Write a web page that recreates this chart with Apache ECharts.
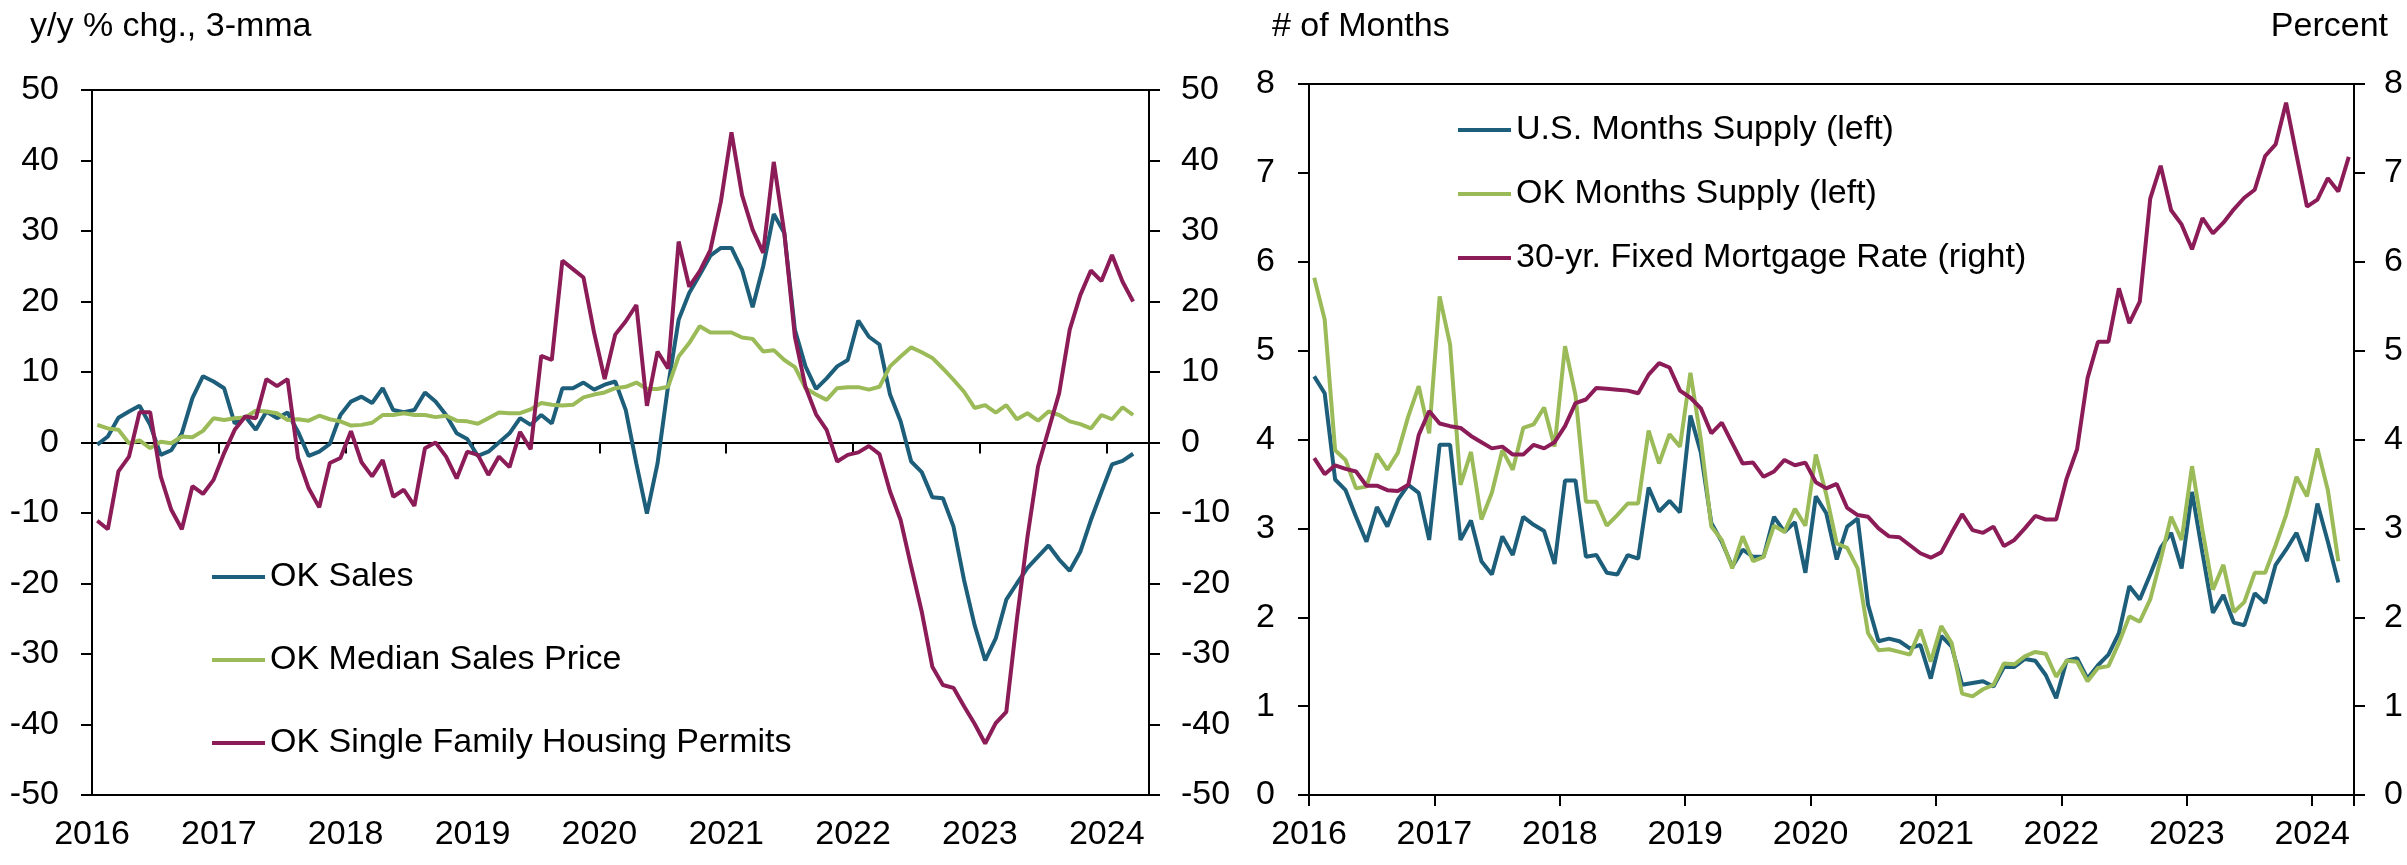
<!DOCTYPE html>
<html>
<head>
<meta charset="utf-8">
<title>OK housing</title>
<script src="https://cdn.jsdelivr.net/npm/echarts@6.0.0/dist/echarts.min.js"></script>
<style>
  html, body { margin: 0; padding: 0; background: #fff; }
  #chart { width: 2407px; height: 865px; }
</style>
</head>
<body>
<div id="chart"></div>
<script>
// monthly data, Jan 2016 onwards
const yearLabels = ['2016', '2017', '2018', '2019', '2020', '2021', '2022', '2023', '2024']
const leftTicks = [-50, -40, -30, -20, -10, 0, 10, 20, 30, 40, 50]
const rightTicks = [0, 1, 2, 3, 4, 5, 6, 7, 8]

// left panel: y/y % chg., 3-mma
const okSales = [
  -0.3, 0.85, 3.5, 4.4, 5.2, 2.5, -1.75, -1.1, 1.3, 6.3,
  9.4, 8.65, 7.7, 2.7, 3.7, 1.8, 4.4, 3.45, 4.25, 1.5,
  -1.9, -1.3, -0.2, 3.9, 5.8, 6.5, 5.6, 7.7, 4.6, 4.3,
  4.6, 7.1, 5.8, 3.9, 1.3, 0.5, -1.9, -1.3, 0, 1.3,
  3.45, 2.5, 3.9, 2.7, 7.7, 7.7, 8.5, 7.5, 8.2, 8.65,
  4.6, -3, -10.1, -3, 8, 17.4, 21.2, 23.8, 26.5, 27.6,
  27.6, 24.5, 19.2, 25, 32.4, 29.7, 16, 10.8, 7.6, 9.1,
  10.8, 11.7, 17.3, 15, 13.9, 6.8, 3.0, -2.7, -4.2, -7.75,
  -7.9, -11.9, -19.5, -25.9, -30.9, -27.8, -22.3, -20, -17.8, -16.2,
  -14.6, -16.6, -18.2, -15.5, -11, -7, -3.1, -2.6, -1.6
]
const okMedianPrice = [
  2.5, 2.0, 1.8, -0.1, 0.3, -0.8, 0.1, -0.1, 0.85, 0.75,
  1.65, 3.45, 3.2, 3.45, 3.55, 4.5, 4.4, 4.15, 3.2, 3.3,
  3.1, 3.8, 3.3, 3.0, 2.4, 2.5, 2.8, 3.9, 3.9, 4.15,
  3.9, 3.9, 3.6, 3.8, 3.1, 3.0, 2.65, 3.45, 4.25, 4.15,
  4.15, 4.7, 5.6, 5.35, 5.25, 5.35, 6.4, 6.8, 7.1, 7.7,
  7.9, 8.5, 7.6, 7.6, 7.9, 12.2, 14.1, 16.5, 15.6, 15.6,
  15.6, 14.9, 14.7, 12.9, 13.1, 11.7, 10.7, 7.7, 6.8, 6.05,
  7.7, 7.85, 7.85, 7.5, 7.9, 10.8, 12.2, 13.5, 12.8, 12.0,
  10.5, 8.9, 7.2, 4.9, 5.3, 4.25, 5.3, 3.3, 4.15, 3.1,
  4.4, 3.9, 3.0, 2.6, 2.0, 3.9, 3.3, 5.0, 3.9
]
const okPermits = [
  -11.1, -12.3, -4.1, -2.0, 4.3, 4.3, -4.8, -9.55, -12.3, -6.2,
  -7.3, -5.3, -1.5, 1.8, 3.7, 3.45, 9.0, 8.0, 9.0, -2.2,
  -6.5, -9.2, -2.9, -2.2, 1.6, -2.8, -4.8, -2.5, -7.7, -6.7,
  -9.0, -0.8, 0, -2.0, -5.1, -1.3, -1.75, -4.6, -2.0, -3.5,
  1.5, -0.95, 12.3, 11.7, 25.8, 24.6, 23.4, 15.6, 9.0, 15.3,
  17.2, 19.5, 5.2, 12.9, 10.5, 28.5, 22.1, 24.3, 27.3, 34.2,
  44.0, 35.1, 30.2, 26.9, 39.8, 29.7, 15.0, 7.9, 4.0, 1.8,
  -2.7, -1.75, -1.4, -0.5, -1.65, -6.95, -11, -17.6, -24, -31.8,
  -34.4, -34.8, -37.4, -39.9, -42.7, -39.8, -38.2, -25.1, -13.4, -3.4,
  1.8, 7.0, 16.0, 20.9, 24.4, 22.9, 26.6, 22.8, 20.0
]

// right panel: months supply (left axis), mortgage rate (right axis)
const usSupply = [
  4.71, 4.52, 3.55, 3.43, 3.13, 2.85, 3.24, 3.02, 3.32, 3.49,
  3.40, 2.87, 3.94, 3.94, 2.87, 3.09, 2.63, 2.48, 2.91, 2.70,
  3.13, 3.04, 2.97, 2.60, 3.54, 3.54, 2.68, 2.70, 2.50, 2.48,
  2.70, 2.66, 3.46, 3.19, 3.31, 3.18, 4.27, 3.85, 3.06, 2.85,
  2.57, 2.76, 2.68, 2.68, 3.13, 2.96, 3.07, 2.50, 3.36, 3.17,
  2.65, 3.02, 3.11, 2.14, 1.73, 1.76, 1.73, 1.65, 1.69, 1.31,
  1.79, 1.67, 1.24, 1.26, 1.28, 1.22, 1.44, 1.44, 1.53, 1.51,
  1.35, 1.09, 1.51, 1.54, 1.31, 1.46, 1.58, 1.82, 2.35, 2.20,
  2.48, 2.78, 2.95, 2.55, 3.41, 2.72, 2.05, 2.25, 1.94, 1.91,
  2.27, 2.16, 2.59, 2.76, 2.95, 2.63, 3.28, 2.85, 2.39
]
const okSupply = [
  5.82, 5.35, 3.88, 3.77, 3.45, 3.47, 3.84, 3.66, 3.85, 4.26,
  4.60, 4.07, 5.61, 5.07, 3.49, 3.86, 3.10, 3.40, 3.88, 3.66,
  4.13, 4.17, 4.36, 3.92, 5.05, 4.50, 3.30, 3.30, 3.03, 3.15,
  3.28, 3.28, 4.10, 3.73, 4.06, 3.92, 4.75, 4.0, 3.02, 2.87,
  2.55, 2.91, 2.63, 2.68, 3.03, 2.96, 3.22, 3.03, 3.83, 3.38,
  2.83, 2.78, 2.55, 1.82, 1.63, 1.64, 1.61, 1.58, 1.86, 1.50,
  1.90, 1.71, 1.14, 1.11, 1.19, 1.24, 1.48, 1.47, 1.56, 1.61,
  1.59, 1.33, 1.51, 1.50, 1.28, 1.43, 1.45, 1.71, 2.01, 1.95,
  2.20, 2.65, 3.13, 2.87, 3.70, 2.98, 2.31, 2.59, 2.06, 2.17,
  2.50, 2.50, 2.81, 3.15, 3.58, 3.36, 3.90, 3.43, 2.63
]
const mortgageRate = [
  3.79, 3.61, 3.71, 3.67, 3.64, 3.48, 3.48, 3.43, 3.42, 3.49,
  4.05, 4.32, 4.18, 4.15, 4.13, 4.04, 3.97, 3.90, 3.92, 3.83,
  3.83, 3.94, 3.90, 3.97, 4.15, 4.41, 4.45, 4.58, 4.57, 4.56,
  4.55, 4.52, 4.73, 4.86, 4.81, 4.55, 4.47, 4.35, 4.07, 4.19,
  3.96, 3.73, 3.74, 3.58, 3.64, 3.77, 3.71, 3.74, 3.52, 3.45,
  3.50, 3.23, 3.15, 3.13, 3.00, 2.91, 2.90, 2.81, 2.72, 2.67,
  2.73, 2.95, 3.16, 2.98, 2.95, 3.02, 2.80, 2.87, 3.00, 3.14,
  3.10, 3.10, 3.56, 3.89, 4.69, 5.10, 5.10, 5.70, 5.31, 5.55,
  6.71, 7.08, 6.58, 6.42, 6.14, 6.49, 6.32, 6.44, 6.59, 6.72,
  6.81, 7.19, 7.32, 7.79, 7.20, 6.62, 6.70, 6.94, 6.79, 7.18
]

const blue = '#1d5e7a'
const green = '#9bbb59'
const purple = '#8c1c57'
const font = "'Liberation Sans Narrow', 'Arial Narrow', 'Liberation Sans', sans-serif"
const fontSize = 34

// points sit mid-month on a month-index axis
const toPoints = (arr) => arr.map((v, i) => [i + 0.5, v])
const yearFormatter = (v) => (v % 12 === 0 ? yearLabels[v / 12] : '')

const axisLine = { show: true, onZero: false, lineStyle: { color: '#000', width: 2 } }
const axisTick = { show: true, length: 11, lineStyle: { color: '#000', width: 2 } }
const labelStyle = { color: '#000', fontFamily: font, fontSize: fontSize }

function yAxis(gridIndex, position, ticks, margin) {
  return {
    type: 'value', gridIndex, position,
    min: ticks[0], max: ticks[ticks.length - 1], interval: ticks[1] - ticks[0],
    axisLine, axisTick,
    axisLabel: { ...labelStyle, margin },
    splitLine: { show: false },
  }
}

function lineSeries(name, data, color, xAxisIndex, yAxisIndex) {
  return {
    name, type: 'line', xAxisIndex, yAxisIndex,
    data: toPoints(data),
    showSymbol: false, symbol: 'none',
    lineStyle: { width: 4, color },
    itemStyle: { color },
    emphasis: { disabled: true },
  }
}

const chart = echarts.init(document.getElementById('chart'), null, { renderer: 'canvas' })

const option = {
  animation: false,
  backgroundColor: '#fff',
  textStyle: { fontFamily: font },
  title: [
    { text: 'y/y % chg., 3-mma', left: 30, top: 10, padding: 0,
      textStyle: { ...labelStyle, fontWeight: 'normal' } },
    { text: '# of Months', left: 1272, top: 10, padding: 0,
      textStyle: { ...labelStyle, fontWeight: 'normal' } },
    { text: 'Percent', right: 19, top: 10, padding: 0,
      textStyle: { ...labelStyle, fontWeight: 'normal' } },
  ],
  legend: [
    {
      data: ['OK Sales', 'OK Median Sales Price', 'OK Single Family Housing Permits'],
      orient: 'vertical', left: 212, top: 557, padding: 0,
      icon: 'rect', itemWidth: 53, itemHeight: 4, itemGap: 43,
      textStyle: { ...labelStyle, lineHeight: 40 },
    },
    {
      data: ['U.S. Months Supply (left)', 'OK Months Supply (left)', '30-yr. Fixed Mortgage Rate (right)'],
      orient: 'vertical', left: 1458, top: 110, padding: 0,
      icon: 'rect', itemWidth: 53, itemHeight: 4, itemGap: 24,
      textStyle: { ...labelStyle, lineHeight: 40 },
    },
  ],
  grid: [
    { left: 92, top: 90, width: 1057, height: 705, show: true,
      borderColor: '#000', borderWidth: 2, backgroundColor: 'transparent', outerBoundsMode: 'none' },
    { left: 1309, top: 84, width: 1045, height: 711, show: true,
      borderColor: '#000', borderWidth: 2, backgroundColor: 'transparent', outerBoundsMode: 'none' },
  ],
  xAxis: [
    // left panel, year labels along the bottom
    { type: 'value', gridIndex: 0, position: 'bottom', min: 0, max: 100, interval: 12,
      axisLine: { show: false, onZero: false }, axisTick: { show: false },
      axisLabel: { ...labelStyle, margin: 23, formatter: yearFormatter },
      splitLine: { show: false } },
    // left panel, zero line with year ticks
    { type: 'value', gridIndex: 0, position: 'bottom', min: 0, max: 100, interval: 12,
      axisLine: { show: true, onZero: true, onZeroAxisIndex: 0, lineStyle: { color: '#000', width: 2 } },
      axisTick, axisLabel: { show: false }, splitLine: { show: false } },
    // right panel
    { type: 'value', gridIndex: 1, position: 'bottom', min: 0, max: 100, interval: 12,
      axisLine, axisTick,
      axisLabel: { ...labelStyle, margin: 23, formatter: yearFormatter },
      splitLine: { show: false } },
  ],
  yAxis: [
    yAxis(0, 'left', leftTicks, 33),
    yAxis(0, 'right', leftTicks, 32),
    yAxis(1, 'left', rightTicks, 34),
    yAxis(1, 'right', rightTicks, 30),
  ],
  series: [
    lineSeries('OK Sales', okSales, blue, 0, 0),
    lineSeries('OK Median Sales Price', okMedianPrice, green, 0, 0),
    lineSeries('OK Single Family Housing Permits', okPermits, purple, 0, 0),
    lineSeries('U.S. Months Supply (left)', usSupply, blue, 2, 2),
    lineSeries('OK Months Supply (left)', okSupply, green, 2, 2),
    lineSeries('30-yr. Fixed Mortgage Rate (right)', mortgageRate, purple, 2, 3),
  ],
}

chart.setOption(option)
</script>
</body>
</html>
